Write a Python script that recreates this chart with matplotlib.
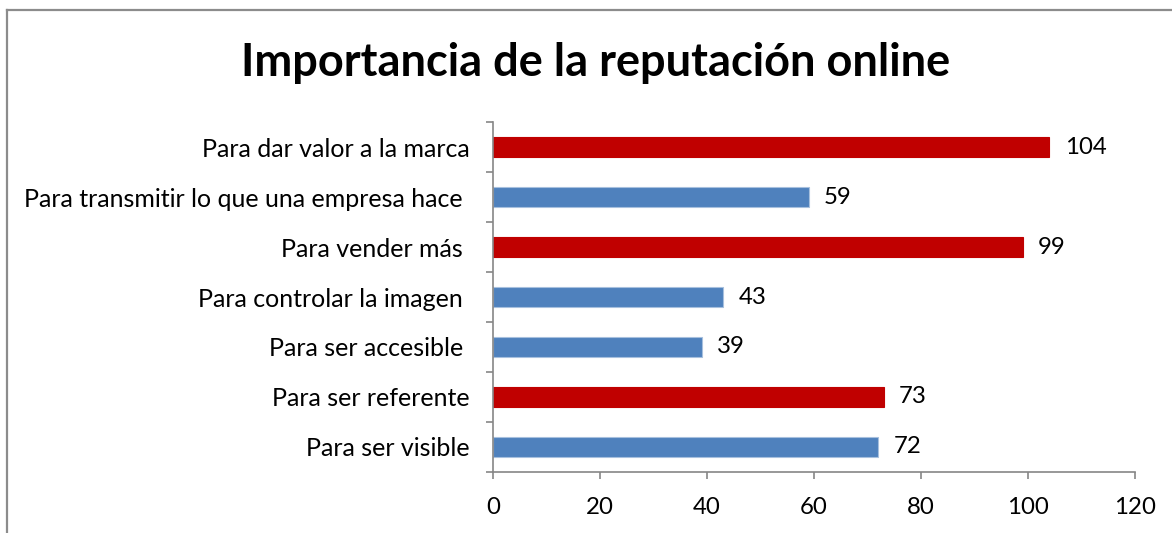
import matplotlib.pyplot as plt
from matplotlib.lines import Line2D
import numpy as np

plt.rcParams['font.family'] = ['Lato', 'DejaVu Sans']

# data, bottom to top
categories = ['Para ser visible', 'Para ser referente', 'Para ser accesible ',
              'Para controlar la imagen ', 'Para vender más ',
              'Para transmitir lo que una empresa hace ', 'Para dar valor a la marca']
values = [72, 73, 39, 43, 99, 59, 104]
highlight = [False, True, False, False, True, False, True]
xticks = [0, 20, 40, 60, 80, 100, 120]

RED = '#C00000'
BLUE = '#4F81BD'
GRAY = '#868686'

fig = plt.figure(figsize=(11.72, 5.33), dpi=100)
ax = fig.add_axes([493 / 1172, 1 - 471.7 / 533, (1135 - 493) / 1172, (471.7 - 122.5) / 533])

ind = np.arange(len(categories))
colors = [RED if h else BLUE for h in highlight]
edges = [RED if h else '#A7C0DE' for h in highlight]
ax.barh(ind, values, height=0.4, color=colors, edgecolor=edges, linewidth=0.8)

for y, v in zip(ind, values):
    ax.annotate(str(v), (v, y), xytext=(11, 0), textcoords='offset points',
                va='center', ha='left', fontsize=17.3)

ax.set_xlim(0, 120)
ax.set_ylim(-0.5, len(categories) - 0.5)
ax.set_xticks(xticks)
ax.set_xticklabels([str(t) for t in xticks], fontsize=17.3)
ax.set_yticks(ind)
ax.set_yticklabels(categories, fontsize=18)
ax.set_yticks(np.arange(-0.5, len(categories)), minor=True)
ax.tick_params(axis='y', which='major', length=0, pad=17)
ax.tick_params(axis='y', which='minor', length=5, width=1.2, color=GRAY, direction='out')
ax.tick_params(axis='x', length=5, width=1.2, color=GRAY, direction='out', pad=13)

for side in ('top', 'right'):
    ax.spines[side].set_visible(False)
for side in ('left', 'bottom'):
    ax.spines[side].set_color(GRAY)
    ax.spines[side].set_linewidth(1.2)

fig.text(596 / 1172, 1 - 63 / 533, 'Importancia de la reputación online',
         ha='center', va='center', fontsize=32.5, fontweight='bold')

# chart area border (left and top visible)
fig.add_artist(Line2D([7 / 1172, 7 / 1172], [0, 1 - 10 / 533], color='#8C8C8C', lw=1.6))
fig.add_artist(Line2D([7 / 1172, 1], [1 - 10 / 533, 1 - 10 / 533], color='#8C8C8C', lw=1.6))

plt.savefig('out.png', dpi=100)
